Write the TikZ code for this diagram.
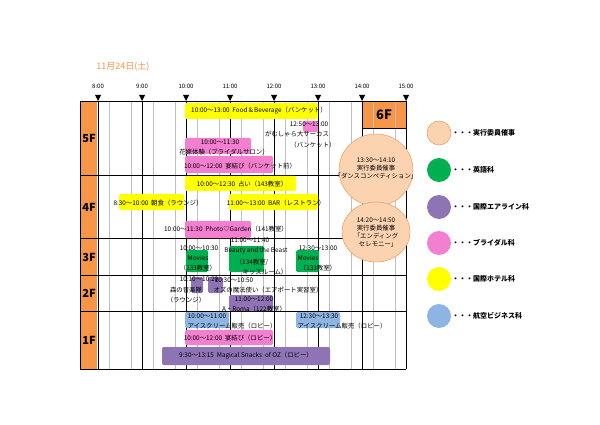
\documentclass[tikz,border=0pt]{standalone}
\usepackage{fontspec}
\setmainfont{Noto Sans CJK JP}
\usetikzlibrary{shapes.geometric}
\definecolor{cy}{HTML}{FFFF00}
\definecolor{cp}{HTML}{F27FCF}
\definecolor{cg}{HTML}{00B050}
\definecolor{cv}{HTML}{8F74B5}
\definecolor{cb}{HTML}{8EB4E3}
\definecolor{co}{HTML}{F79646}
\definecolor{clo}{HTML}{FBD3B0}
\definecolor{clb}{HTML}{EE9A5A}
\begin{document}
\begin{tikzpicture}[x=1pt,y=-1pt,
 t/.style={font=\fontsize{6.4}{7}\selectfont,inner sep=0},
 fl/.style={font=\bfseries\fontsize{11}{12}\selectfont,inner sep=0},
 hr/.style={font=\fontsize{6}{7}\selectfont,inner sep=0},
 leg/.style={circle,minimum size=24pt,inner sep=0},
 lt/.style={font=\bfseries\fontsize{7}{8}\selectfont,inner sep=0,anchor=west},
 ev/.style={ellipse,fill=clo,draw=clb,line width=0.5pt}]
\useasboundingbox (0,0) rectangle (600,425);
\fill[white] (0,0) rectangle (600,425);
% title
\node[font=\fontsize{9}{10}\selectfont,text=co,inner sep=0] (title) at (123,67) {11月24日(土)};
% hour labels and triangles
\foreach \h [count=\i from 0] in {8:00,9:00,10:00,11:00,12:00,13:00,14:00,15:00}{
  \node[hr] (h\i) at (98+44*\i,86) {\h};
  \fill (98+44*\i-3,95) -- (98+44*\i+3,95) -- (98+44*\i,101) -- cycle;
}
% left column
\fill[co] (80,101) rectangle (97,369);
% 6F box
\fill[co] (362,101) rectangle (406,128);
% grid
\foreach \i in {0,...,13}{\draw[gray!50,line width=0.4pt] (109+22*\i,101) -- (109+22*\i,369);}
\foreach \i in {0,...,6}{\draw[black,line width=0.5pt] (98+44*\i,101) -- (98+44*\i,369);}
\draw[black,line width=0.5pt] (406,101) -- (406,369);
\foreach \yy in {101,175,238,275,311,369}{\draw[black,line width=0.6pt] (80,\yy) -- (406,\yy);}
\draw[black,line width=0.6pt] (80,101) -- (80,369);
\draw[black,line width=0.6pt] (362,128) -- (406,128);
\node[font=\bfseries\fontsize{13}{14}\selectfont,inner sep=0] (f6) at (384,115) {6F};
\node[fl] (f5) at (89,138) {5F};
\node[fl] (f4) at (89,207) {4F};
\node[fl] (f3) at (89,257) {3F};
\node[fl] (f2) at (89,293) {2F};
\node[fl] (f1) at (89,340) {1F};
% 5F
\fill[cy,rounded corners=1.5pt] (185,103) rectangle (318,119);
\node[t] (b1) at (259,111) {10:00〜13:00\ \ Food＆Beverage（バンケット）};
\fill[cp,rounded corners=1.5pt] (303,121) rectangle (318,132);
\node[t] (b2a) at (309,124) {12:50〜13:00};
\node[t] (b2b) at (297,134) {がむしゃら大サーカス};
\node[t] (b2c) at (313,145) {（バンケット）};
\fill[cp,rounded corners=1.5pt] (185,138) rectangle (251,154);
\node[t] (b3a) at (220,142) {10:00〜11:30};
\node[t] (b3b) at (224,152) {花嫁体験（ブライダルサロン）};
\fill[cp,rounded corners=1.5pt] (185,156) rectangle (273,173);
\node[t] (b4) at (240,166) {10:00〜12:00\ \ 宴結び（バンケット前）};
% 4F
\fill[cy,rounded corners=1.5pt] (185,176) rectangle (296,191);
\node[t] (b5) at (242,184) {10:00〜12:30\ \ 占い（143教室）};
\fill[cy,rounded corners=1.5pt] (119,194) rectangle (184,210);
\node[t] (b6) at (158,203) {8:30〜10:00\ \ 朝食（ラウンジ）};
\fill[cy,rounded corners=1.5pt] (229,194) rectangle (318,210);
\node[t] (b7) at (276,203) {11:00〜13:00\ \ BAR（レストラン）};
\fill[cp,rounded corners=1.5pt] (185,221) rectangle (251,238);
\node[t] (b8) at (226,229) {10:00〜11:30\ \ Photo♡Garden（141教室）};
% 3F
\fill[cg,rounded corners=1.5pt] (186,250) rectangle (208,272);
\node[t] (c1a) at (199,248) {10:00〜10:30};
\node[t] (c1b) at (198,258) {Movies};
\node[t] (c1c) at (198,268) {（133教室）};
\fill[cg,rounded corners=1.5pt] (229,246) rectangle (264,272);
\node[t] (c2a) at (250,240) {11:00〜11:40};
\node[t] (c2b) at (256,251) {Beauty and the Beast};
\node[t] (c2c) at (252,262) {（134教室/};
\node[t] (c2d) at (265,272) {キッズルーム）};
\fill[cg,rounded corners=1.5pt] (296,250) rectangle (319,272);
\node[t] (c3a) at (318,248) {12:30〜13:00};
\node[t] (c3b) at (308,258) {Movies};
\node[t] (c3c) at (318,268) {（133教室）};
% 2F
\fill[cv,rounded corners=1.5pt] (191,277) rectangle (203,293);
\fill[cv,rounded corners=1.5pt] (208,277) rectangle (223,293);
\fill[cv,rounded corners=1.5pt] (229,295) rectangle (273,311);
\node[t] (d1a) at (199,279) {10:10〜10:20};
\node[t] (d2a) at (234,280) {10:30〜10:50};
\node[t] (d1b) at (186,290) {森の音楽隊};
\node[t] (d2b) at (268,290) {オズの魔法使い（エアポート実習室）};
\node[t] (d1c) at (186,300) {（ラウンジ）};
\node[t] (d3a) at (254,299) {11:00〜12:00};
\node[t] (d3b) at (254,309) {A・Roma（122教室）};
% 1F
\fill[cb,rounded corners=1.5pt] (185,312) rectangle (229,328);
\node[t] (e1a) at (207,316) {10:00〜11:00};
\node[t] (e1b) at (232,326) {アイスクリーム販売（ロビー）};
\fill[cb,rounded corners=1.5pt] (296,312) rectangle (340,328);
\node[t] (e2a) at (319,316) {12:30〜13:30};
\node[t] (e2b) at (342,326) {アイスクリーム販売（ロビー）};
\fill[cp,rounded corners=1.5pt] (185,330) rectangle (273,345);
\node[t] (e3) at (230,338) {10:00〜12:00\ \ 宴結び（ロビー）};
\fill[cv,rounded corners=2pt] (162,347) rectangle (330,365);
\node[t] (e4) at (246,356) {9:30〜13:15\ \ Magical Snacks\ \ of OZ（ロビー）};
% orange events
\node[ev,minimum width=74pt,minimum height=72pt] (o1) at (376,170) {};
\node[t,align=center] (o1t) at (376,168) {13:30〜14:10\\[1pt]実行委員催事\\[1pt]「ダンスコンペティション」};
\node[ev,minimum width=68pt,minimum height=60pt] (o2) at (376,232) {};
\node[t,align=center] (o2t) at (376,232) {14:20〜14:50\\[1pt]実行委員催事\\[1pt]「エンディング\\[1pt]\ \ \ セレモニー」};
% legend
\node[leg,fill=clo,draw=clb,line width=0.5pt] (l1) at (439,133) {};
\node[leg,fill=cg] (l2) at (439,170) {};
\node[leg,fill=cv] (l3) at (439,207) {};
\node[leg,fill=cp] (l4) at (439,243) {};
\node[leg,fill=cy] (l5) at (439,279) {};
\node[leg,fill=cb] (l6) at (439,316) {};
\node[lt] (lt1) at (452,133) {・・・実行委員催事};
\node[lt] (lt2) at (452,170) {・・・英語科};
\node[lt] (lt3) at (452,207) {・・・国際エアライン科};
\node[lt] (lt4) at (452,243) {・・・ブライダル科};
\node[lt] (lt5) at (452,279) {・・・国際ホテル科};
\node[lt] (lt6) at (452,316) {・・・航空ビジネス科};
\end{tikzpicture}
\end{document}
